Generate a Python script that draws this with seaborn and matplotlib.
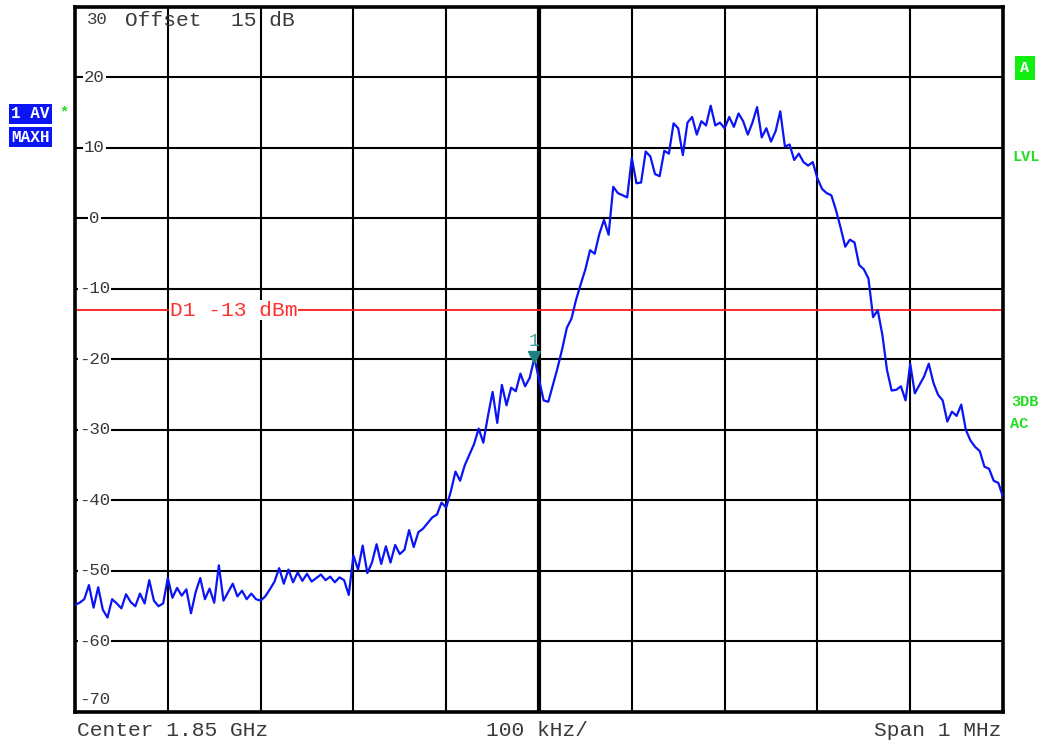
import numpy as np
import pandas as pd
import matplotlib
matplotlib.use("Agg")
import matplotlib.pyplot as plt
import matplotlib.transforms as mtransforms
import seaborn as sns

# ---------------- data ----------------
# frequency offset from centre (kHz), 5 kHz steps across the 1 MHz span
freq_khz = np.arange(-500, 501, 5)

level_seg1 = [-54.8, -54.5, -54.0, -52.0, -55.2, -52.3, -55.5, -56.6, -54.0, -54.6,
              -55.3, -53.3, -54.4, -55.0, -53.2, -54.6, -51.3, -54.2, -55.0, -54.6,
              -51.0, -53.8, -52.4, -53.5, -52.6, -56.0, -53.0, -51.0, -54.0, -52.5,
              -54.5, -49.2, -54.2, -53.0, -51.8, -53.6, -52.8, -54.0, -53.2, -54.0]
level_seg2 = [-54.2, -53.6, -52.6, -51.5, -49.6, -51.8, -49.8, -51.6, -50.2, -51.4,
              -50.4, -51.5, -51.0, -50.5, -51.3, -50.8, -51.6, -50.9, -51.3, -53.4,
              -47.8, -49.8, -46.4, -50.3, -48.8, -46.2, -49.0, -46.5, -48.8, -46.3,
              -47.6, -47.0, -44.2, -46.6, -44.5, -44.0, -43.2, -42.4, -42.0, -40.3]
level_seg3 = [-41.0, -38.7, -35.9, -37.2, -35.0, -33.5, -32.0, -29.8, -31.8, -28.0,
              -24.6, -29.0, -23.6, -26.5, -24.0, -24.5, -22.0, -23.8, -22.6, -19.8,
              -22.8, -25.8, -26.0, -23.6, -21.2, -18.5, -15.5, -14.2, -11.5, -9.3,
              -7.2, -4.5, -5.0, -2.2, -0.2, -2.3, 4.5, 3.6, 3.3, 3.0]
level_seg4 = [8.6, 5.0, 5.1, 9.5, 8.8, 6.3, 6.0, 9.6, 9.2, 13.5,
              12.8, 9.0, 13.6, 14.4, 11.9, 13.8, 13.2, 16.0, 13.2, 13.6,
              12.8, 14.4, 13.0, 14.9, 13.8, 11.9, 13.6, 15.8, 11.5, 12.8,
              10.9, 12.4, 15.2, 10.2, 10.5, 8.3, 9.2, 8.0, 7.5, 8.0]
level_seg5 = [5.7, 4.2, 3.6, 3.3, 1.2, -1.3, -4.0, -3.0, -3.4, -6.6,
              -7.2, -8.5, -14.0, -13.0, -16.5, -21.5, -24.4, -24.3, -23.8, -25.8,
              -20.6, -24.8, -23.6, -22.4, -20.6, -23.3, -25.0, -25.8, -28.8, -27.4,
              -28.0, -26.4, -30.0, -31.5, -32.4, -33.0, -35.2, -35.5, -37.2, -37.5,
              -39.5]
level_dbm = level_seg1 + level_seg2 + level_seg3 + level_seg4 + level_seg5

y_ticks = [30, 20, 10, 0, -10, -20, -30, -40, -50, -60, -70]
display_line_dbm = -13
marker_index = 99

df = pd.DataFrame({"freq": freq_khz, "level": level_dbm})

# ---------------- figure ----------------
W, H = 1047, 742
sns.set_style("white")
plt.rcParams["font.family"] = ["Liberation Mono", "DejaVu Sans Mono"]

fig = plt.figure(figsize=(W / 100, H / 100), dpi=100)
ax = fig.add_axes([75 / W, 1 - 712 / H, 928 / W, 705 / H])

def fx(px):
    return px / W

def fy(py):
    return 1 - py / H

TXT = "#3a3a3a"
ax.set_xlim(-500, 500)
ax.set_ylim(-70, 30)
ax.set_xticks(np.arange(-500, 501, 100))
ax.set_yticks(np.arange(-70, 31, 10))
ax.tick_params(length=0, labelbottom=False, labelleft=False)
ax.grid(True, color="black", linewidth=1.5, zorder=0)
ax.set_axisbelow(True)
for s in ax.spines.values():
    s.set_color("black")
    s.set_linewidth(2.6)
# thicker centre line
ax.axvline(0, color="black", linewidth=3.0, zorder=1)

blend = mtransforms.blended_transform_factory(ax.transAxes, ax.transData)

# display line
ax.axhline(display_line_dbm, color="#ff1a1a", linewidth=1.3, zorder=2)
ax.text(0.102, display_line_dbm, "D1 -13 dBm", color="#ff3030", fontsize=15.3,
        va="center", ha="left", transform=blend,
        bbox=dict(facecolor="white", edgecolor="none", pad=0.5), zorder=3)

# trace
sns.lineplot(data=df, x="freq", y="level", ax=ax, color="#0a14f5",
             linewidth=1.6, zorder=4, legend=False)
ax.set_xlabel("")
ax.set_ylabel("")

# marker 1
mf, ml = freq_khz[marker_index], level_dbm[marker_index]
ax.plot([mf], [ml + 0.2], marker="v", markersize=9, color="#1e8080",
        linestyle="none", zorder=5)
ax.text(mf, ml + 1.1, "1", color="#3aa0a0", fontsize=13, ha="center",
        va="bottom", zorder=5)

# y tick labels inside plot
for v in y_ticks:
    if v == 30:
        ax.text(0.013, v - 1.8, str(v), transform=blend, fontsize=12.5,
                color=TXT, ha="left", va="center", zorder=6)
    elif v == -70:
        ax.text(0.021, v + 1.8, str(v), transform=blend, fontsize=12.5,
                color=TXT, ha="center", va="center", zorder=6)
    else:
        ax.text(0.021, v, str(v), transform=blend, fontsize=12.5,
                color=TXT, ha="center", va="center", zorder=6,
                bbox=dict(facecolor="white", edgecolor="none", pad=0.6))

ax.text((125 - 75) / 928, 28.1, "Offset", transform=blend, fontsize=15.3,
        color=TXT, ha="left", va="center", zorder=6)
ax.text((231 - 75) / 928, 28.1, "15 dB", transform=blend, fontsize=15.3,
        color=TXT, ha="left", va="center", zorder=6)

# bottom annotations
fig.text(fx(77), fy(731), "Center 1.85 GHz", fontsize=15.3, color=TXT,
         ha="left", va="center")
fig.text(fx(537), fy(731), "100 kHz/", fontsize=15.3, color=TXT,
         ha="center", va="center")
fig.text(fx(1001), fy(731), "Span 1 MHz", fontsize=15.3, color=TXT,
         ha="right", va="center")

# left side trace info boxes
fig.text(fx(11), fy(114), "1 AV", fontsize=11.5, color="white", fontweight="bold",
         ha="left", va="center",
         bbox=dict(facecolor="#0a14f5", edgecolor="none", pad=1.5))
fig.text(fx(11), fy(137), "MAXH", fontsize=11.5, color="white", fontweight="bold",
         ha="left", va="center",
         bbox=dict(facecolor="#0a14f5", edgecolor="none", pad=1.5))
fig.text(fx(64), fy(112), "*", fontsize=11, color="#22dd22", fontweight="bold",
         ha="center", va="center")

# right side status
fig.text(fx(1025), fy(68), "A", fontsize=11, color="white", fontweight="bold",
         ha="center", va="center",
         bbox=dict(facecolor="#11ee11", edgecolor="none",
                   boxstyle="square,pad=0.35"))
fig.text(fx(1026), fy(157), "LVL", fontsize=11, color="#22dd22", fontweight="bold",
         ha="center", va="center")
fig.text(fx(1025), fy(402), "3DB", fontsize=11, color="#22dd22", fontweight="bold",
         ha="center", va="center")
fig.text(fx(1010), fy(424), "AC", fontsize=11, color="#22dd22", fontweight="bold",
         ha="left", va="center")

fig.savefig("out.png", dpi=100, facecolor="white")
